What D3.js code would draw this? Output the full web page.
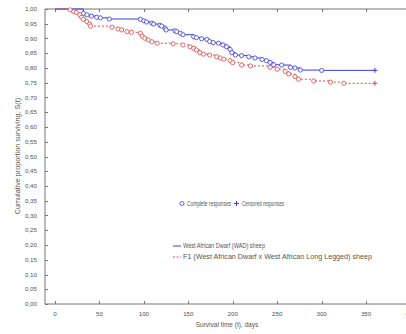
<!DOCTYPE html>
<html>
<head>
<meta charset="utf-8">
<script src="https://cdn.jsdelivr.net/npm/d3@7"></script>
<style>
  body { margin: 0; background: #fff; }
  svg text { font-family: 'Liberation Sans', Arial, sans-serif; fill: #555; }
</style>
</head>
<body>
<div id="chart"></div>
<script>
const WIDTH = 406
const HEIGHT = 334

// West African Dwarf (WAD) sheep: event days and survival S(t)
const wadDays = [0, 32, 36, 41, 47, 51, 61, 96, 100, 103, 109, 111, 118, 120, 124, 125, 135, 137, 141, 144, 156, 159, 165, 171, 174, 178, 184, 189, 193, 197, 199, 203, 210, 218, 225, 233, 238, 242, 246, 255, 265, 270, 276, 300]
const wadSurv = [1, 0.985, 0.980, 0.976, 0.972, 0.970, 0.966, 0.965, 0.960, 0.956, 0.952, 0.949, 0.945, 0.942, 0.934, 0.929, 0.926, 0.923, 0.918, 0.913, 0.906, 0.903, 0.899, 0.897, 0.890, 0.886, 0.884, 0.878, 0.872, 0.863, 0.852, 0.844, 0.842, 0.838, 0.834, 0.829, 0.825, 0.819, 0.811, 0.810, 0.802, 0.800, 0.793, 0.792]
const wadCensored = [[360, 0.792]]

// F1 (WAD x West African Long Legged) sheep
const f1Days = [0, 17, 21, 24, 28, 30, 32, 36, 39, 40, 64, 71, 75, 81, 86, 96, 98, 101, 105, 109, 115, 133, 144, 152, 156, 159, 163, 167, 174, 182, 186, 190, 197, 200, 210, 220, 242, 250, 259, 263, 270, 274, 291, 310, 325]
const f1Surv = [1, 0.997, 0.991, 0.988, 0.980, 0.972, 0.965, 0.957, 0.949, 0.942, 0.938, 0.932, 0.929, 0.923, 0.921, 0.918, 0.908, 0.901, 0.895, 0.889, 0.884, 0.882, 0.878, 0.872, 0.867, 0.861, 0.852, 0.847, 0.844, 0.838, 0.834, 0.830, 0.825, 0.818, 0.810, 0.807, 0.802, 0.796, 0.788, 0.780, 0.771, 0.762, 0.756, 0.752, 0.748]
const f1Censored = [[360, 0.748]]

const xTicks = [0, 50, 100, 150, 200, 250, 300, 350, 400]
const yTicks = d3.range(0, 1.0001, 0.05)

const BLUE = '#3a3ae6'
const RED = '#e04848'

const svg = d3.select('#chart')
  .append('svg')
  .attr('width', WIDTH)
  .attr('height', HEIGHT)

const x = d3.scaleLinear().domain([0, 400]).range([55, 410.5])
const y = d3.scaleLinear().domain([0, 1]).range([304, 9])
const left = 45
const right = 430

// frame
const frame = svg.append('g').attr('stroke', '#777').attr('stroke-width', 1).attr('fill', 'none')
frame.append('line').attr('x1', left).attr('x2', left).attr('y1', y(1)).attr('y2', y(0))
frame.append('line').attr('x1', left).attr('x2', right).attr('y1', y(0)).attr('y2', y(0))
frame.append('line').attr('x1', left).attr('x2', right).attr('y1', y(1)).attr('y2', y(1))

// y ticks + labels
const fmt = (v) => d3.format('.2f')(v).replace('.', ',')
svg.append('g').selectAll('line').data(yTicks).join('line')
  .attr('x1', left).attr('x2', left + 3)
  .attr('y1', (d) => Math.round(y(d)) + 0.5).attr('y2', (d) => Math.round(y(d)) + 0.5)
  .attr('stroke', '#777')
svg.append('g').selectAll('text').data(yTicks).join('text')
  .attr('x', 37).attr('y', (d) => y(d) + 2.2)
  .attr('text-anchor', 'end')
  .style('font-size', '6.2px')
  .text(fmt)

// x ticks + labels
svg.append('g').selectAll('line').data(xTicks).join('line')
  .attr('x1', (d) => Math.round(x(d)) + 0.5).attr('x2', (d) => Math.round(x(d)) + 0.5)
  .attr('y1', y(0)).attr('y2', y(0) - 3)
  .attr('stroke', '#777')
svg.append('g').selectAll('line').data(xTicks).join('line')
  .attr('x1', (d) => Math.round(x(d)) + 0.5).attr('x2', (d) => Math.round(x(d)) + 0.5)
  .attr('y1', y(1)).attr('y2', y(1) + 3)
  .attr('stroke', '#777')
svg.append('g').selectAll('text').data(xTicks).join('text')
  .attr('x', (d) => x(d)).attr('y', 316)
  .attr('text-anchor', 'middle')
  .style('font-size', '6.2px')
  .text((d) => d)

// axis titles
svg.append('text')
  .attr('x', 227).attr('y', 327)
  .attr('text-anchor', 'middle')
  .style('font-size', '6.5px')
  .text('Survival time (t), days')
svg.append('text')
  .attr('transform', 'translate(20,156) rotate(-90)')
  .attr('text-anchor', 'middle')
  .style('font-size', '7.2px')
  .text('Cumulative proportion surviving, S(t)')

// survival curves
const series = [
  { days: wadDays, surv: wadSurv, cens: wadCensored, color: BLUE, dash: null },
  { days: f1Days, surv: f1Surv, cens: f1Censored, color: RED, dash: '2,2' }
]
const line = d3.line().x((d) => x(d[0])).y((d) => y(d[1])).curve(d3.curveStepAfter)

series.forEach((s) => {
  const pts = s.days.map((d, i) => [d, s.surv[i]])
  const all = pts.concat(s.cens)
  svg.append('path')
    .attr('d', line(all))
    .attr('fill', 'none')
    .attr('stroke', s.color)
    .attr('stroke-width', 1)
    .attr('stroke-dasharray', s.dash)
  svg.append('g').selectAll('circle').data(pts.slice(1)).join('circle')
    .attr('cx', (d) => x(d[0])).attr('cy', (d) => y(d[1]))
    .attr('r', 2.1)
    .attr('fill', '#fff')
    .attr('stroke', s.color)
    .attr('stroke-width', 0.8)
  svg.append('g').selectAll('path').data(s.cens).join('path')
    .attr('d', (d) => `M${x(d[0]) - 2.5},${y(d[1])}h5M${x(d[0])},${y(d[1]) - 2.5}v5`)
    .attr('stroke', s.color)
    .attr('stroke-width', 1)
})

// legend: markers
const lg = svg.append('g')
lg.append('circle').attr('cx', 182).attr('cy', 203.5).attr('r', 2)
  .attr('fill', '#fff').attr('stroke', BLUE).attr('stroke-width', 0.8)
lg.append('text').attr('x', 187).attr('y', 205.8).style('font-size', '6.5px')
  .attr('textLength', 44).attr('lengthAdjust', 'spacingAndGlyphs').text('Complete responses')
lg.append('path').attr('d', 'M234,203.5h5M236.5,201v5').attr('stroke', BLUE).attr('stroke-width', 1)
lg.append('text').attr('x', 242).attr('y', 205.8).style('font-size', '6.5px')
  .attr('textLength', 42).attr('lengthAdjust', 'spacingAndGlyphs').text('Censored responses')

// legend: lines
lg.append('line').attr('x1', 173).attr('x2', 181).attr('y1', 246).attr('y2', 246)
  .attr('stroke', BLUE).attr('stroke-width', 1)
lg.append('text').attr('x', 183).attr('y', 248.3).style('font-size', '6.5px')
  .attr('textLength', 82).attr('lengthAdjust', 'spacingAndGlyphs').text('West African Dwarf (WAD) sheep')
lg.append('line').attr('x1', 173).attr('x2', 181).attr('y1', 257).attr('y2', 257)
  .attr('stroke', RED).attr('stroke-width', 1).attr('stroke-dasharray', '2,1.5')
lg.append('text').attr('x', 183).attr('y', 259.3).style('font-size', '6.5px')
  .attr('textLength', 189).attr('lengthAdjust', 'spacingAndGlyphs').text('F1 (West African Dwarf x West African Long Legged) sheep')
</script>
</body>
</html>
